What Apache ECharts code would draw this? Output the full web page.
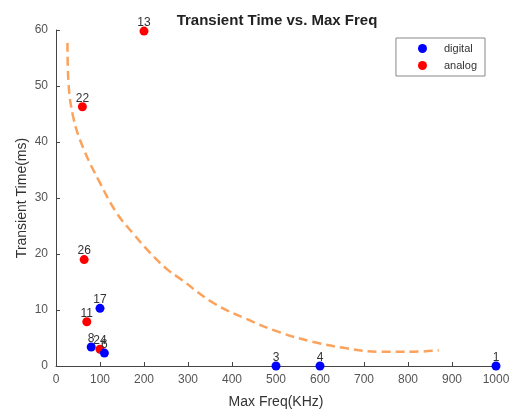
<!DOCTYPE html>
<html>
<head>
<meta charset="utf-8">
<script src="https://cdn.jsdelivr.net/npm/echarts@6/dist/echarts.min.js"></script>
<style>html,body{margin:0;padding:0;background:#fff}#c{width:513px;height:414px}</style>
</head>
<body>
<div id="c"></div>
<script>
// Digital devices: [maxFreq kHz, transient ms, label]
var digitalX = [100, 80, 110, 500, 600, 1000];
var digitalY = [10.3, 3.4, 2.3, 0, 0, 0];
var digitalLabels = ['17', '8', '6', '3', '4', '1'];
// Analog devices
var analogX = [200, 60, 64, 70, 100];
var analogY = [59.8, 46.3, 19.0, 7.9, 3.0];
var analogLabels = ['13', '22', '26', '11', '24'];
// Fitted trend curve (dashed)
var fitX = [26, 28, 39, 62, 100, 138, 176, 214, 252, 282, 357, 433, 509, 585, 661, 736, 812, 870];
var fitY = [57.7, 51.1, 44.5, 38.9, 32.7, 27.3, 23.6, 20.2, 17.3, 15.6, 11.3, 8.4, 6.0, 4.3, 3.15, 2.55, 2.55, 2.8];
var xTicks = {min: 0, max: 1000, interval: 100};
var yTicks = {min: 0, max: 60, interval: 10};

function zip(xs, ys, ls) {
  return xs.map(function (x, i) { return ls ? [x, ys[i], ls[i]] : [x, ys[i]]; });
}
var FONT = '"Liberation Sans", Arial, sans-serif';
var chart = echarts.init(document.getElementById('c'), null, {renderer: 'canvas'});
var axisCommon = {
  axisLine: {show: true, lineStyle: {color: '#444', width: 1}},
  axisTick: {show: true, inside: true, length: 4, lineStyle: {color: '#444'}},
  axisLabel: {color: '#555', fontSize: 12, fontFamily: FONT, formatter: function (v) { return String(v); }},
  splitLine: {show: false},
  nameMoveOverlap: false,
  nameTextStyle: {color: '#333', fontSize: 14, fontFamily: FONT}
};
var labelCfg = {
  show: true, position: 'top', distance: -2,
  formatter: function (p) { return p.data[2]; },
  color: '#333', fontSize: 12, fontFamily: FONT
};
chart.setOption({
  animation: false,
  backgroundColor: '#fff',
  title: {
    text: 'Transient Time vs. Max Freq', left: 272, top: 8, textAlign: 'center',
    textStyle: {fontSize: 15, fontWeight: 'bold', color: '#222', fontFamily: FONT}
  },
  grid: {left: 56, right: 17, top: 30, bottom: 47},
  legend: {
    data: ['digital', 'analog'], orient: 'vertical', right: 28, top: 38,
    icon: 'circle', itemWidth: 9, itemHeight: 9, itemGap: 6,
    borderColor: '#888', borderWidth: 1, padding: [5, 8, 5, 22],
    textStyle: {fontSize: 11, color: '#333', fontFamily: FONT, padding: [0, 0, 0, 12]}
  },
  xAxis: Object.assign({}, axisCommon, {
    type: 'value', min: xTicks.min, max: xTicks.max, interval: xTicks.interval,
    name: 'Max Freq(KHz)', nameLocation: 'middle', nameGap: 29
  }),
  yAxis: Object.assign({}, axisCommon, {
    type: 'value', min: yTicks.min, max: yTicks.max, interval: yTicks.interval,
    name: 'Transient Time(ms)', nameLocation: 'middle', nameGap: 27
  }),
  series: [
    {
      name: 'fit', type: 'line', data: zip(fitX, fitY), smooth: 0.4, showSymbol: false,
      lineStyle: {color: '#FBA25C', width: 2.5, type: [9, 5]}, silent: true, z: 1
    },
    {
      name: 'analog', type: 'scatter', data: zip(analogX, analogY, analogLabels),
      symbolSize: 9, itemStyle: {color: '#FF0000', opacity: 1}, label: labelCfg, z: 3
    },
    {
      name: 'digital', type: 'scatter', data: zip(digitalX, digitalY, digitalLabels),
      symbolSize: 9, itemStyle: {color: '#0000FF', opacity: 1}, label: labelCfg, z: 4
    }
  ]
});
</script>
</body>
</html>
